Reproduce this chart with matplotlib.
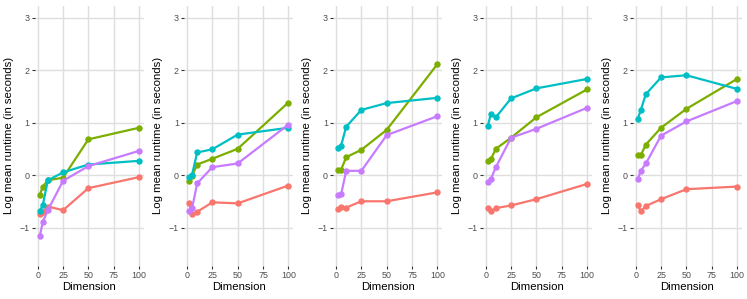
import matplotlib
matplotlib.use("Agg")
import matplotlib.pyplot as plt

plt.rcParams["font.family"] = ["Liberation Sans", "DejaVu Sans"]

# dimensiones evaluadas y runtime medio (log) por panel, una lista por serie
dims = [2, 5, 10, 25, 50, 100]

red = [
    [-0.74, -0.70, -0.60, -0.67, -0.25, -0.04],
    [-0.54, -0.75, -0.70, -0.52, -0.54, -0.20],
    [-0.65, -0.60, -0.62, -0.50, -0.50, -0.33],
    [-0.62, -0.69, -0.63, -0.58, -0.46, -0.17],
    [-0.58, -0.69, -0.59, -0.46, -0.27, -0.22],
]
green = [
    [-0.38, -0.22, -0.10, -0.05, 0.68, 0.90],
    [-0.11, -0.01, 0.20, 0.31, 0.50, 1.38],
    [0.10, 0.10, 0.34, 0.48, 0.86, 2.11],
    [0.27, 0.30, 0.50, 0.71, 1.10, 1.63],
    [0.38, 0.38, 0.58, 0.90, 1.26, 1.83],
]
cyan = [
    [-0.69, -0.57, -0.10, 0.05, 0.20, 0.27],
    [-0.04, 0.01, 0.43, 0.49, 0.77, 0.90],
    [0.52, 0.56, 0.92, 1.24, 1.37, 1.47],
    [0.93, 1.16, 1.10, 1.46, 1.65, 1.83],
    [1.07, 1.24, 1.54, 1.86, 1.90, 1.64],
]
purple = [
    [-1.17, -0.89, -0.67, -0.11, 0.17, 0.46],
    [-0.68, -0.63, -0.16, 0.15, 0.22, 0.96],
    [-0.38, -0.37, 0.08, 0.08, 0.76, 1.12],
    [-0.14, -0.08, 0.15, 0.71, 0.88, 1.28],
    [-0.08, 0.08, 0.22, 0.75, 1.02, 1.41],
]

series = [red, green, cyan, purple]
colores = ["#F8766D", "#7CAE00", "#00BFC4", "#C77CFF"]

xticks = [0, 25, 50, 75, 100]
yticks = [-1, 0, 1, 2, 3]

W, H = 747, 299
fig = plt.figure(figsize=(W / 100, H / 100), dpi=100)

lefts = [34.8, 184.1, 333.1, 482.8, 632.8]
ancho = 109.2
abajo = 1 - 265.6 / H
alto = (265.6 - 5.7) / H

for i, l in enumerate(lefts):
    ax = fig.add_axes([l / W, abajo, ancho / W, alto])
    for s, c in zip(series, colores):
        ax.plot(dims, s[i], color=c, lw=1.6, marker="o", ms=3.6,
                solid_joinstyle="round", solid_capstyle="round")
    ax.set_xlim(-2.9, 104.9)
    ax.set_ylim(-1.725, 3.225)
    ax.set_xticks(xticks)
    ax.set_yticks(yticks)
    ax.grid(True, color="#DEDEDE", lw=1.0)
    ax.set_axisbelow(True)
    for sp in ax.spines.values():
        sp.set_visible(False)
    ax.tick_params(length=2.2, width=0.8, color="#333333", labelcolor="#4D4D4D",
                   labelsize=6.4, pad=1.5)
    ax.set_xlabel("Dimension", fontsize=8.2, labelpad=1.5)
    ax.set_ylabel("Log mean runtime (in seconds)", fontsize=8.2, labelpad=4)

fig.savefig("out.png", dpi=100)
